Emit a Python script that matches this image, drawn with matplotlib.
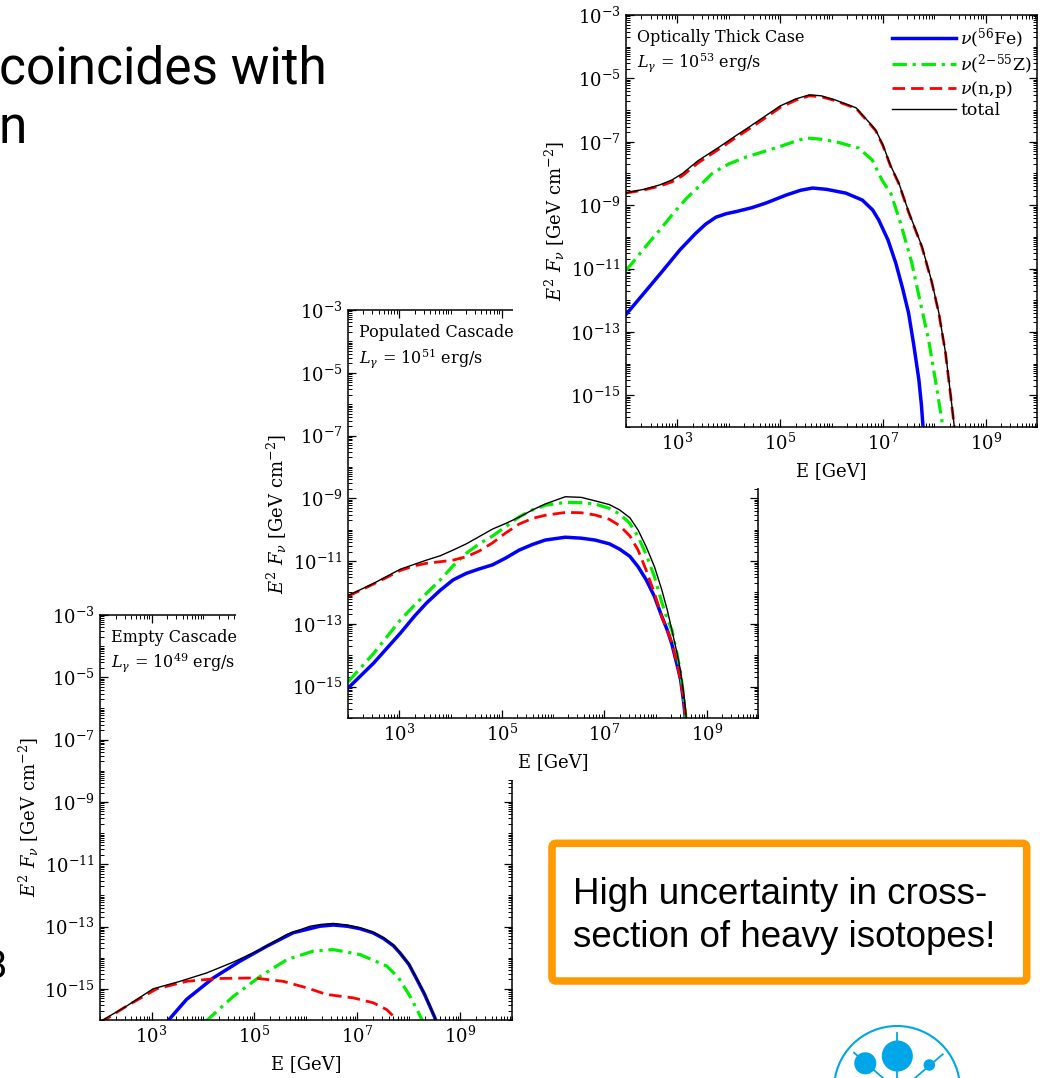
import numpy as np
import matplotlib
matplotlib.use('Agg')
import matplotlib.pyplot as plt
from matplotlib.patches import Rectangle, FancyBboxPatch, Circle
from matplotlib.lines import Line2D
from matplotlib.ticker import FixedLocator, LogLocator, FuncFormatter, NullFormatter

plt.rcParams['font.family'] = 'DejaVu Serif'
plt.rcParams['mathtext.fontset'] = 'dejavuserif'

# --- data (log10 E [GeV], log10 E^2 F [GeV cm^-2]) ---
# optically thick case, L = 1e53 erg/s
thick_tot_x = [2.0, 2.35, 2.66, 2.9, 3.1, 3.4, 3.82, 4.1, 4.4, 4.7, 5.0, 5.3, 5.57, 5.8, 6.07, 6.3, 6.48,
               6.6, 6.75, 6.86, 7.0, 7.15, 7.31, 7.5, 7.76, 7.95, 8.09, 8.22, 8.32, 8.42]
thick_tot_y = [-8.61, -8.5, -8.36, -8.2, -8.0, -7.6, -7.16, -6.85, -6.53, -6.2, -5.87, -5.65, -5.52, -5.55,
               -5.68, -5.82, -5.93, -6.15, -6.42, -6.63, -7.1, -7.75, -8.3, -9.2, -10.3, -11.4, -12.4,
               -13.66, -15.0, -16.4]
thick_np_y = [-8.62, -8.52, -8.4, -8.26, -8.07, -7.67, -7.22, -6.91, -6.59, -6.26, -5.92, -5.69, -5.55,
              -5.58, -5.7, -5.84, -5.95, -6.17, -6.44, -6.65, -7.12, -7.77, -8.32, -9.22, -10.32, -11.42,
              -12.42, -13.68, -15.02, -16.42]
thick_z_x = [2.0, 2.14, 2.4, 2.66, 2.9, 3.18, 3.49, 3.69, 4.0, 4.34, 4.98, 5.3, 5.51, 5.8, 6.09, 6.53, 6.79,
             6.98, 7.16, 7.35, 7.56, 7.72, 7.89, 8.02, 8.14, 8.2]
thick_z_y = [-11.06, -10.79, -10.27, -9.78, -9.3, -8.78, -8.3, -7.98, -7.7, -7.48, -7.16, -6.98, -6.88,
             -6.92, -7.0, -7.2, -7.57, -8.2, -8.65, -9.6, -10.8, -12.0, -13.25, -14.5, -15.7, -16.4]
thick_fe_x = [2.0, 2.4, 2.7, 3.05, 3.35, 3.55, 3.75, 3.95, 4.15, 4.45, 4.73, 5.12, 5.4, 5.63, 5.9, 6.28,
              6.6, 6.8, 6.92, 7.1, 7.25, 7.38, 7.5, 7.6, 7.7, 7.75, 7.8]
thick_fe_y = [-12.45, -11.68, -11.1, -10.41, -9.9, -9.6, -9.38, -9.27, -9.2, -9.08, -8.93, -8.68, -8.53,
              -8.46, -8.5, -8.62, -8.84, -9.15, -9.47, -10.1, -10.82, -11.6, -12.4, -13.4, -14.5, -15.3,
              -16.4]

# populated cascade, L = 1e51 erg/s
pop_x = [2.0, 2.5, 3.02, 3.3, 3.53, 3.8, 4.05, 4.31, 4.56, 4.82, 5.08, 5.34, 5.6, 5.85, 6.24, 6.55, 6.82,
         7.1, 7.3, 7.5, 7.66, 7.82, 7.98, 8.12, 8.23, 8.32, 8.42, 8.49, 8.55, 8.62]
pop_tot_y = [-12.1, -11.71, -11.26, -11.1, -10.97, -10.83, -10.65, -10.45, -10.22, -9.98, -9.8, -9.6,
             -9.37, -9.18, -8.95, -8.97, -9.08, -9.2, -9.37, -9.62, -10.01, -10.55, -11.18, -11.9, -12.56,
             -13.2, -13.93, -14.5, -15.2, -16.3]
pop_np_y = [-12.12, -11.73, -11.3, -11.15, -11.07, -11.02, -10.97, -10.86, -10.68, -10.42, -10.1, -9.82,
            -9.64, -9.54, -9.45, -9.46, -9.53, -9.67, -9.87, -10.2, -10.65, -11.3, -12.03, -12.75, -13.2,
            -13.6, -14.25, -14.79, -15.4, -16.4]
pop_z_y = [-14.85, -13.94, -12.88, -12.4, -12.03, -11.6, -11.15, -10.75, -10.45, -10.2, -9.9, -9.59, -9.37,
           -9.22, -9.13, -9.14, -9.18, -9.32, -9.5, -9.8, -10.22, -10.8, -11.5, -12.3, -12.85, -13.2,
           -13.95, -14.57, -15.3, -16.4]
pop_fe_y = [-15.05, -14.25, -13.3, -12.75, -12.34, -11.93, -11.6, -11.39, -11.25, -11.12, -10.9, -10.65,
            -10.47, -10.33, -10.24, -10.27, -10.33, -10.45, -10.62, -10.85, -11.18, -11.6, -12.13, -12.75,
            -13.2, -13.65, -14.3, -14.78, -15.5, -16.6]

# empty cascade, L = 1e49 erg/s
emp_tot_x = [2.0, 2.51, 3.03, 3.55, 4.07, 4.59, 5.11, 5.63, 6.08, 6.3, 6.53, 6.8, 7.05, 7.3, 7.51, 7.7,
             7.83, 8.0, 8.16, 8.3, 8.41, 8.5, 8.56]
emp_tot_y = [-16.05, -15.56, -15.0, -14.76, -14.49, -14.14, -13.74, -13.25, -12.99, -12.93, -12.9, -12.95,
             -13.04, -13.18, -13.36, -13.6, -13.84, -14.2, -14.7, -15.15, -15.56, -15.9, -16.2]
emp_fe_x = [3.28, 3.68, 4.2, 4.72, 5.24, 5.75, 6.27, 6.53, 6.8, 7.05, 7.3, 7.51, 7.7, 7.83, 8.0, 8.16, 8.3,
            8.41, 8.5, 8.56]
emp_fe_y = [-16.1, -15.34, -14.65, -14.11, -13.63, -13.2, -12.99, -12.95, -12.99, -13.07, -13.2, -13.39,
            -13.62, -13.86, -14.22, -14.72, -15.17, -15.58, -15.92, -16.2]
emp_np_x = [2.0, 2.51, 3.1, 3.68, 4.26, 4.98, 5.56, 6.02, 6.4, 6.92, 7.31, 7.57, 7.8]
emp_np_y = [-16.1, -15.56, -15.0, -14.76, -14.67, -14.65, -14.76, -14.97, -15.18, -15.29, -15.45, -15.67,
            -16.05]
emp_z_x = [4.05, 4.59, 5.11, 5.63, 6.14, 6.53, 7.05, 7.57, 7.8, 8.02, 8.15, 8.27]
emp_z_y = [-16.05, -15.24, -14.6, -14.06, -13.79, -13.74, -13.9, -14.27, -14.65, -15.24, -15.65, -16.05]

labels = [r'$\nu$($^{56}$Fe)', r'$\nu$($^{2\!-\!55}$Z)', r'$\nu$(n,p)', 'total']
y_major = [1e-3, 1e-5, 1e-7, 1e-9, 1e-11, 1e-13, 1e-15]
x_major = [1e3, 1e5, 1e7, 1e9]

W, H = 1040, 1078
fig = plt.figure(figsize=(W / 100, H / 100), dpi=100)


def box(l, t, r, b):
    return [l / W, 1 - b / H, (r - l) / W, (b - t) / H]


def style(ax, name, lum):
    ax.set_xscale('log')
    ax.set_yscale('log')
    ax.set_xlim(1e2, 1e10)
    ax.set_ylim(1e-16, 1e-3)
    ax.xaxis.set_major_locator(FixedLocator(x_major))
    ax.yaxis.set_major_locator(FixedLocator(y_major))
    ax.xaxis.set_minor_locator(LogLocator(base=10, subs=np.arange(1, 10), numticks=100))
    ax.yaxis.set_minor_locator(LogLocator(base=10, subs=np.arange(1, 10), numticks=100))
    fmt = FuncFormatter(lambda v, p: r'$\mathdefault{10^{%d}}$' % round(np.log10(v)))
    ax.xaxis.set_major_formatter(fmt)
    ax.yaxis.set_major_formatter(fmt)
    ax.xaxis.set_minor_formatter(NullFormatter())
    ax.yaxis.set_minor_formatter(NullFormatter())
    ax.tick_params(which='both', direction='in', top=True, right=True, labelsize=13)
    ax.tick_params(which='major', length=6, width=0.9, pad=4)
    ax.tick_params(which='minor', length=3, width=0.7)
    for s in ax.spines.values():
        s.set_linewidth(1.1)
    ax.set_xlabel('E [GeV]', fontsize=13, labelpad=6)
    ax.set_ylabel(r'$E^2\ F_{\nu}$ [GeV cm$^{-2}$]', fontsize=13, labelpad=2)
    ax.text(0.027, 0.965, name + '\n' + r'$L_\gamma$ = 10$^{%d}$ erg/s' % lum, transform=ax.transAxes,
            va='top', ha='left', fontsize=11.5, linespacing=1.3)


def draw(ax, fe, z, np_, tot):
    ax.plot(10 ** np.array(fe[0]), 10 ** np.array(fe[1]), color='#0000ff', lw=2.5, label=labels[0])
    ax.plot(10 ** np.array(z[0]), 10 ** np.array(z[1]), color='#00ee00', lw=2.3,
            dashes=(4.5, 1.8, 1, 1.8), label=labels[1])
    ax.plot(10 ** np.array(np_[0]), 10 ** np.array(np_[1]), color='#ff0000', lw=2.0,
            dashes=(4.5, 2.2), label=labels[2])
    ax.plot(10 ** np.array(tot[0]), 10 ** np.array(tot[1]), color='black', lw=1.0, label=labels[3])


# empty cascade (bottom)
ax3 = fig.add_axes(box(100, 615, 512, 1020))
ax3.set_zorder(1)
style(ax3, 'Empty Cascade', 49)
draw(ax3, (emp_fe_x, emp_fe_y), (emp_z_x, emp_z_y), (emp_np_x, emp_np_y), (emp_tot_x, emp_tot_y))

# white cover of the pasted middle figure
fig.add_artist(Rectangle((236 / W, 1 - 780 / H), (790 - 236) / W, (780 - 280) / H,
                         transform=fig.transFigure, facecolor='white', edgecolor='none', zorder=2))

# populated cascade (middle)
ax2 = fig.add_axes(box(348, 310, 758, 718))
ax2.set_zorder(3)
style(ax2, 'Populated Cascade', 51)
draw(ax2, (pop_x, pop_fe_y), (pop_x, pop_z_y), (pop_x, pop_np_y), (pop_x, pop_tot_y))

fig.add_artist(Rectangle((513 / W, 1 - 488 / H), (W - 513) / W, 488 / H,
                         transform=fig.transFigure, facecolor='white', edgecolor='none', zorder=4))

# optically thick (top)
ax1 = fig.add_axes(box(626, 15, 1037, 427))
ax1.set_zorder(5)
style(ax1, 'Optically Thick Case', 53)
draw(ax1, (thick_fe_x, thick_fe_y), (thick_z_x, thick_z_y), (thick_tot_x, thick_np_y),
     (thick_tot_x, thick_tot_y))
ax1.legend(loc='upper right', bbox_to_anchor=(1.0, 0.985), frameon=False, fontsize=12.5,
           handlelength=3.7, handletextpad=0.25, labelspacing=0.12, borderaxespad=0.0, borderpad=0.3)

# slide text around the figures
fig.text(-1 / W, 1 - 83 / H, 'coincides with', family='Roboto', fontsize=37, va='baseline', zorder=6)
fig.text(-2 / W, 1 - 143 / H, 'n', family='Roboto', fontsize=37, va='baseline', zorder=6)
fig.text(-17 / W, 1 - 978 / H, 'B', family='Roboto', fontsize=28, va='baseline', zorder=6)

fig.add_artist(FancyBboxPatch((552 / W, 1 - 981 / H), (1026.7 - 552) / W, (981 - 843.3) / H,
                              boxstyle='round,pad=0,rounding_size=0.004', transform=fig.transFigure,
                              facecolor='white', edgecolor='#ff9900', lw=5.4, zorder=6))
fig.text(573 / W, 1 - 904 / H, 'High uncertainty in cross-', family='Liberation Sans', fontsize=26.5,
         va='baseline', zorder=7)
fig.text(573 / W, 1 - 947 / H, 'section of heavy isotopes!', family='Liberation Sans', fontsize=26.5,
         va='baseline', zorder=7)

# logo at the bottom right
logo = '#00a6e8'
for (cx, cy, r, fill) in [(897, 1089, 63, False), (897.3, 1056, 14.5, True), (865.3, 1063.3, 10, True),
                          (929.3, 1065, 4.7, True)]:
    fig.add_artist(Circle((cx, H - cy), r, transform=None, facecolor=logo if fill else 'none',
                          edgecolor=logo, lw=1.5, zorder=6))
for (x0, y0, x1, y1) in [(897, 1033, 897, 1078), (854, 1052.7, 883, 1078), (942.7, 1054.3, 915, 1078)]:
    fig.add_artist(Line2D([x0, x1], [H - y0, H - y1], transform=None, color=logo, lw=1.3, zorder=6))

fig.savefig('out.png', dpi=100)
